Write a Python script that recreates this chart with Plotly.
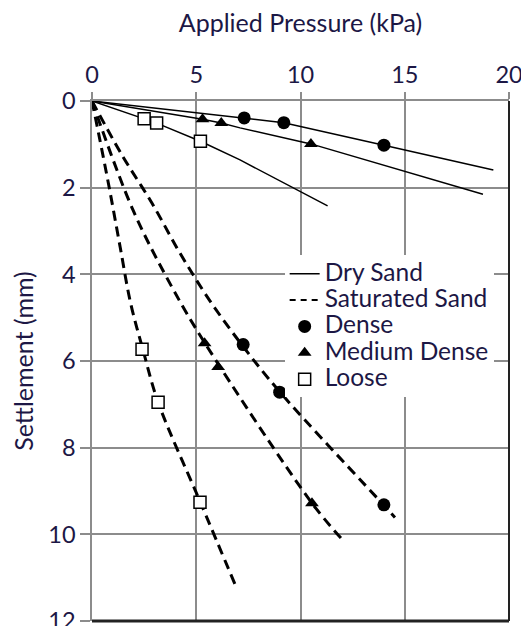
import plotly.graph_objects as go

# ---- data (Applied Pressure kPa, Settlement mm) ----
dry_dense_x = [7.3, 9.2, 14.0]
dry_dense_y = [0.39, 0.50, 1.02]
dry_medium_x = [5.3, 6.2, 10.5]
dry_medium_y = [0.42, 0.51, 0.99]
dry_loose_x = [2.5, 3.1, 5.2]
dry_loose_y = [0.41, 0.51, 0.93]

sat_dense_x = [7.25, 9.0, 14.0]
sat_dense_y = [5.62, 6.72, 9.32]
sat_medium_x = [5.4, 6.05, 10.55]
sat_medium_y = [5.59, 6.14, 9.28]
sat_loose_x = [2.4, 3.17, 5.18]
sat_loose_y = [5.73, 6.95, 9.26]

# trend lines
dry_dense_fit_x = [0, 7.3, 9.2, 14.0, 19.25]
dry_dense_fit_y = [0, 0.39, 0.50, 1.02, 1.59]
dry_medium_fit_x = [0, 5.3, 6.2, 7.1, 10.5, 18.75]
dry_medium_fit_y = [0, 0.42, 0.51, 0.62, 0.99, 2.15]
dry_loose_fit_x = [0, 2.5, 3.1, 5.2, 7.1, 11.3]
dry_loose_fit_y = [0, 0.41, 0.51, 0.93, 1.36, 2.42]

sat_dense_fit_x = [0, 1.44, 2.88, 4.22, 5.64, 7.24, 9.02, 14.0, 14.53]
sat_dense_fit_y = [0, 1.25, 2.36, 3.51, 4.60, 5.66, 6.72, 9.33, 9.61]
sat_medium_fit_x = [0, 1.97, 3.84, 5.42, 10.55, 12.04]
sat_medium_fit_y = [0, 2.52, 4.30, 5.59, 9.28, 10.14]
sat_loose_fit_x = [0, 0.35, 0.85, 1.35, 1.85, 2.45, 3.17, 5.18, 6.9]
sat_loose_fit_y = [0, 0.83, 2.06, 3.37, 4.66, 5.75, 6.95, 9.24, 11.2]

legend_names = ["Dry Sand", "Saturated Sand", "Dense", "Medium Dense", "Loose"]

FONT = "Lato"
TXT = "#1c1745"
GRID = "#8c8c8c"
SAT_DASH = "10px,6px"

fig = go.Figure()

# fitted lines
for fx, fy in [(dry_dense_fit_x, dry_dense_fit_y), (dry_medium_fit_x, dry_medium_fit_y),
               (dry_loose_fit_x, dry_loose_fit_y)]:
    fig.add_trace(go.Scatter(x=fx, y=fy, mode="lines", showlegend=False,
                             line=dict(color="black", width=1.5)))
for fx, fy in [(sat_dense_fit_x, sat_dense_fit_y), (sat_medium_fit_x, sat_medium_fit_y),
               (sat_loose_fit_x, sat_loose_fit_y)]:
    fig.add_trace(go.Scatter(x=fx, y=fy, mode="lines", showlegend=False,
                             line=dict(color="black", width=3, dash=SAT_DASH, shape="spline")))

# markers
circle = dict(symbol="circle", size=13, color="black")
tri = dict(symbol="triangle-up", size=12, color="black")
sq = dict(symbol="square", size=12, color="white", line=dict(color="black", width=1.5))
for xs, ys, m in [(dry_dense_x, dry_dense_y, circle), (sat_dense_x, sat_dense_y, circle),
                  (dry_medium_x, dry_medium_y, tri), (sat_medium_x, sat_medium_y, tri),
                  (dry_loose_x, dry_loose_y, sq), (sat_loose_x, sat_loose_y, sq)]:
    fig.add_trace(go.Scatter(x=xs, y=ys, mode="markers", marker=m, showlegend=False))

# legend entries
def lab(t):
    return '<span style="font-size:24.5px">' + t + '</span>'

fig.add_trace(go.Scatter(x=[None], y=[None], mode="lines", name=lab(legend_names[0]),
                         line=dict(color="black", width=1.5)))
fig.add_trace(go.Scatter(x=[None], y=[None], mode="lines", name=lab(legend_names[1]),
                         line=dict(color="black", width=2, dash="6px,5px")))
fig.add_trace(go.Scatter(x=[None], y=[None], mode="markers", name=lab(legend_names[2]), marker=circle))
fig.add_trace(go.Scatter(x=[None], y=[None], mode="markers", name=lab(legend_names[3]), marker=tri))
fig.add_trace(go.Scatter(x=[None], y=[None], mode="markers", name=lab(legend_names[4]), marker=sq))

fig.update_layout(
    width=521, height=626,
    margin=dict(l=92, r=12, t=101, b=5, autoexpand=False),
    paper_bgcolor="white", plot_bgcolor="white",
    font=dict(family=FONT, color=TXT, size=22),
    showlegend=True,
    legend=dict(x=0.462, y=0.703, xanchor="left", yanchor="top",
                bgcolor="white", borderwidth=0,
                font=dict(family=FONT, size=18, color=TXT),
                itemsizing="trace"),
    xaxis=dict(side="top", range=[0, 20], dtick=5, tick0=0,
               showgrid=True, gridcolor=GRID, gridwidth=1.5,
               showline=True, linecolor=GRID, linewidth=1.5,
               ticks="outside", ticklen=7, tickcolor=GRID, tickwidth=1.5,
               zeroline=False, tickfont=dict(size=23.5, color=TXT),
               ticklabeloverflow="allow",
               title=dict(text="Applied Pressure (kPa)", font=dict(size=25, color=TXT), standoff=20),
               automargin=False),
    yaxis=dict(range=[12, 0], dtick=2, tick0=0,
               showgrid=True, gridcolor=GRID, gridwidth=1.5,
               showline=True, linecolor=GRID, linewidth=1.5,
               ticks="outside", ticklen=10, tickcolor=GRID, tickwidth=1.5,
               zeroline=False, tickfont=dict(size=23.5, color=TXT),
               ticklabeloverflow="allow",
               title=dict(text="Settlement (mm)", font=dict(size=25, color=TXT), standoff=8),
               automargin=False),
    shapes=[
        dict(type="line", xref="paper", yref="paper", x0=0, x1=1, y0=0, y1=0,
             line=dict(color="#222222", width=3)),
        dict(type="line", xref="paper", yref="paper", x0=1, x1=1, y0=0, y1=1,
             line=dict(color="#222222", width=2)),
    ],
)

fig.write_html("out.html")
